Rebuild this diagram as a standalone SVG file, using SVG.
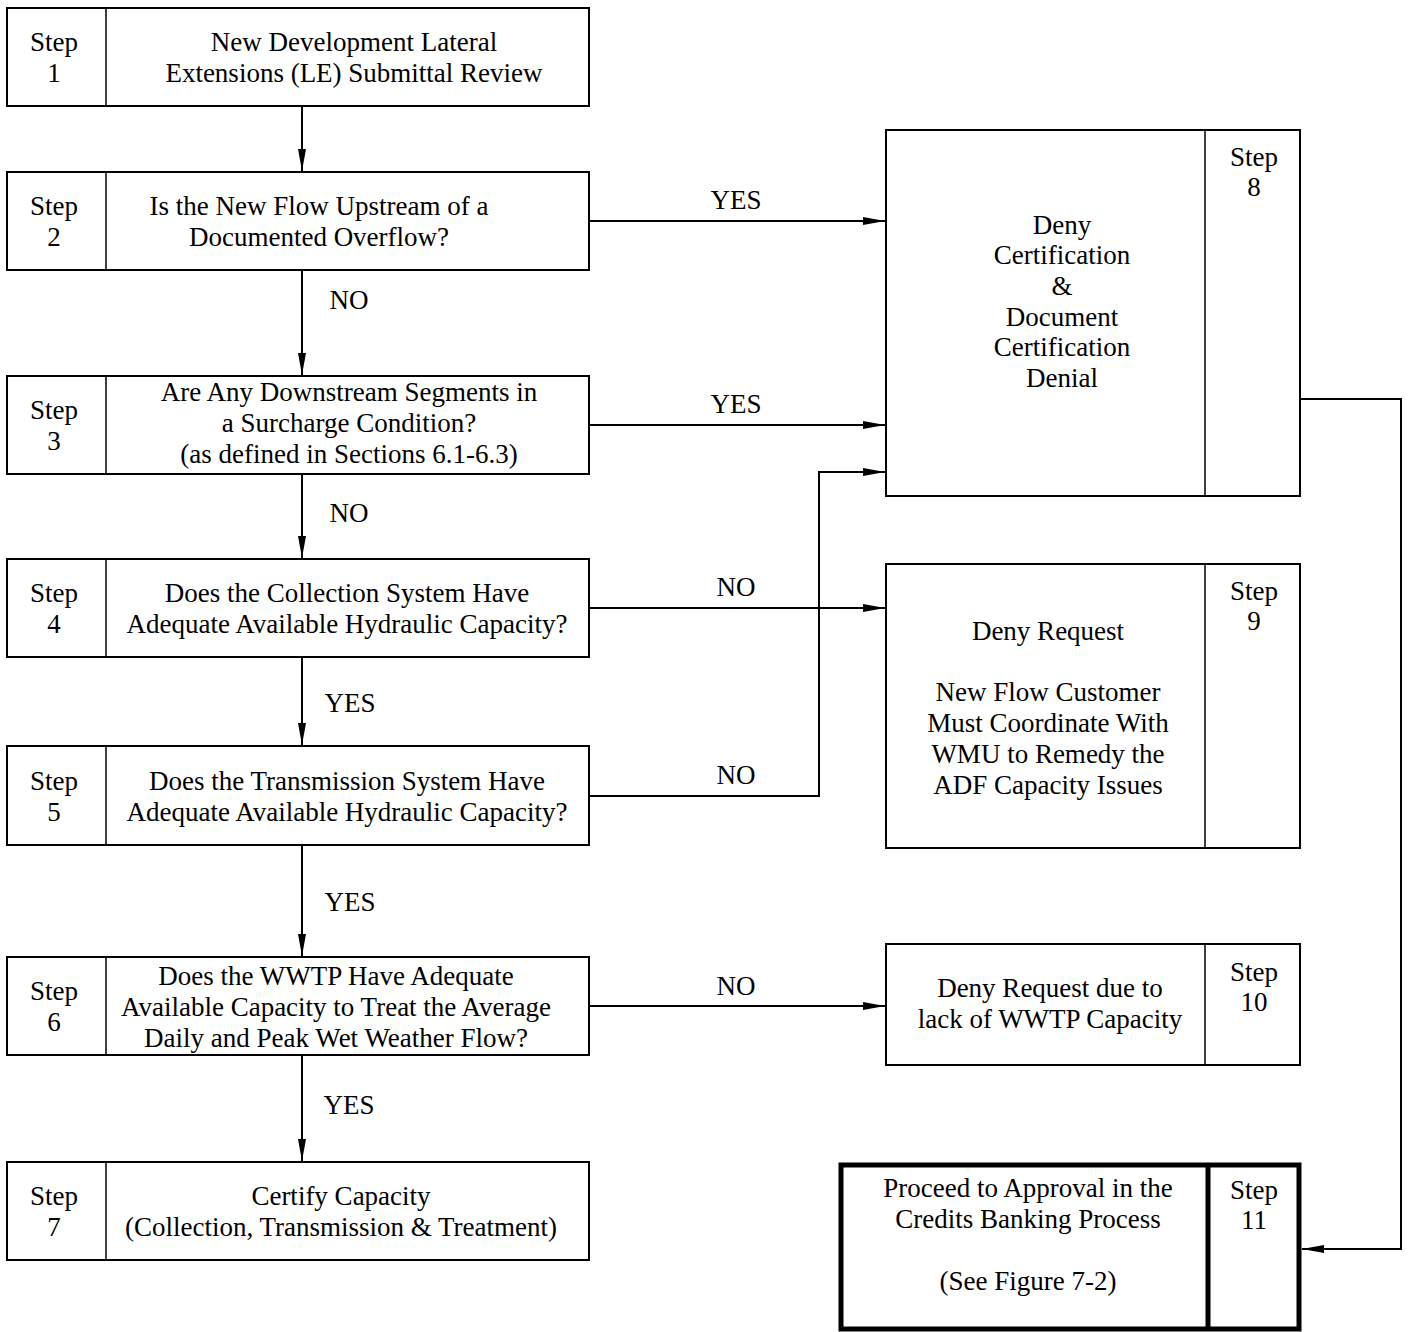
<svg xmlns="http://www.w3.org/2000/svg" width="1409" height="1332" viewBox="0 0 1409 1332">
<defs>
<style>
rect.b{fill:#fff;stroke:#000;stroke-width:2}
line.d,path.d{stroke:#000;stroke-width:1.5;fill:none}
text{font-family:"Liberation Serif","Times New Roman",serif;font-size:27px;fill:#000;text-anchor:middle}
.c path,.c line{stroke:#000;stroke-width:2;fill:none}
.thick{fill:#fff;stroke:#000;stroke-width:5}
</style>
<marker id="ah" viewBox="0 0 22 8" refX="22" refY="4" markerWidth="22" markerHeight="8" markerUnits="userSpaceOnUse" orient="auto">
<path d="M0,0 L22,4 L0,8 Z" fill="#000"/>
</marker>
</defs>
<rect width="1409" height="1332" fill="#fff"/>

<g id="connectors" class="c">
<line x1="302" y1="106" x2="302" y2="171" marker-end="url(#ah)"/>
<line x1="302" y1="270" x2="302" y2="375" marker-end="url(#ah)"/>
<line x1="302" y1="474" x2="302" y2="558" marker-end="url(#ah)"/>
<line x1="302" y1="657" x2="302" y2="745" marker-end="url(#ah)"/>
<line x1="302" y1="845" x2="302" y2="956" marker-end="url(#ah)"/>
<line x1="302" y1="1055" x2="302" y2="1161" marker-end="url(#ah)"/>
<line x1="589" y1="221" x2="885" y2="221" marker-end="url(#ah)"/>
<line x1="589" y1="425" x2="885" y2="425" marker-end="url(#ah)"/>
<line x1="589" y1="608" x2="885" y2="608" marker-end="url(#ah)"/>
<path d="M589,796 H819 V472 H885" marker-end="url(#ah)"/>
<line x1="589" y1="1006" x2="885" y2="1006" marker-end="url(#ah)"/>
<path d="M1300,399 H1401 V1249 H1302" marker-end="url(#ah)"/>
<text x="349" y="309">NO</text>
<text x="349" y="522">NO</text>
<text x="350" y="712">YES</text>
<text x="350" y="911">YES</text>
<text x="349" y="1114">YES</text>
<text x="736" y="209">YES</text>
<text x="736" y="413">YES</text>
<text x="736" y="596">NO</text>
<text x="736" y="784">NO</text>
<text x="736" y="995">NO</text>
</g>

<g id="step1">
<rect class="b" x="7" y="8" width="582" height="98"/>
<line class="d" x1="106" y1="8" x2="106" y2="106"/>
<text x="54" y="51">Step</text><text x="54" y="82">1</text>
<text x="354" y="51">New Development Lateral</text>
<text x="354" y="82">Extensions (LE) Submittal Review</text>
</g>

<g id="step2">
<rect class="b" x="7" y="172" width="582" height="98"/>
<line class="d" x1="106" y1="172" x2="106" y2="270"/>
<text x="54" y="215">Step</text><text x="54" y="246">2</text>
<text x="319" y="215">Is the New Flow Upstream of a</text>
<text x="319" y="246">Documented Overflow?</text>
</g>

<g id="step3">
<rect class="b" x="7" y="376" width="582" height="98"/>
<line class="d" x1="106" y1="376" x2="106" y2="474"/>
<text x="54" y="419">Step</text><text x="54" y="450">3</text>
<text x="349" y="401">Are Any Downstream Segments in</text>
<text x="349" y="432">a Surcharge Condition?</text>
<text x="349" y="463">(as defined in Sections 6.1-6.3)</text>
</g>

<g id="step4">
<rect class="b" x="7" y="559" width="582" height="98"/>
<line class="d" x1="106" y1="559" x2="106" y2="657"/>
<text x="54" y="602">Step</text><text x="54" y="633">4</text>
<text x="347" y="602">Does the Collection System Have</text>
<text x="347" y="633">Adequate Available Hydraulic Capacity?</text>
</g>

<g id="step5">
<rect class="b" x="7" y="746" width="582" height="99"/>
<line class="d" x1="106" y1="746" x2="106" y2="845"/>
<text x="54" y="790">Step</text><text x="54" y="821">5</text>
<text x="347" y="790">Does the Transmission System Have</text>
<text x="347" y="821">Adequate Available Hydraulic Capacity?</text>
</g>

<g id="step6">
<rect class="b" x="7" y="957" width="582" height="98"/>
<line class="d" x1="106" y1="957" x2="106" y2="1055"/>
<text x="54" y="1000">Step</text><text x="54" y="1031">6</text>
<text x="336" y="985">Does the WWTP Have Adequate</text>
<text x="336" y="1016">Available Capacity to Treat the Average</text>
<text x="336" y="1047">Daily and Peak Wet Weather Flow?</text>
</g>

<g id="step7">
<rect class="b" x="7" y="1162" width="582" height="98"/>
<line class="d" x1="106" y1="1162" x2="106" y2="1260"/>
<text x="54" y="1205">Step</text><text x="54" y="1236">7</text>
<text x="341" y="1205">Certify Capacity</text>
<text x="341" y="1236">(Collection, Transmission &amp; Treatment)</text>
</g>

<g id="step8">
<rect class="b" x="886" y="130" width="414" height="366"/>
<line class="d" x1="1205" y1="130" x2="1205" y2="496"/>
<text x="1254" y="166">Step</text><text x="1254" y="196">8</text>
<text x="1062" y="234">Deny</text>
<text x="1062" y="264">Certification</text>
<text x="1062" y="295">&amp;</text>
<text x="1062" y="326">Document</text>
<text x="1062" y="356">Certification</text>
<text x="1062" y="387">Denial</text>
</g>

<g id="step9">
<rect class="b" x="886" y="564" width="414" height="284"/>
<line class="d" x1="1205" y1="564" x2="1205" y2="848"/>
<text x="1254" y="600">Step</text><text x="1254" y="630">9</text>
<text x="1048" y="640">Deny Request</text>
<text x="1048" y="701">New Flow Customer</text>
<text x="1048" y="732">Must Coordinate With</text>
<text x="1048" y="763">WMU to Remedy the</text>
<text x="1048" y="794">ADF Capacity Issues</text>
</g>

<g id="step10">
<rect class="b" x="886" y="944" width="414" height="121"/>
<line class="d" x1="1205" y1="944" x2="1205" y2="1065"/>
<text x="1254" y="981">Step</text><text x="1254" y="1011">10</text>
<text x="1050" y="997">Deny Request due to</text>
<text x="1050" y="1028">lack of WWTP Capacity</text>
</g>

<g id="step11">
<rect class="thick" x="841" y="1165" width="458" height="164"/>
<line x1="1208" y1="1165" x2="1208" y2="1329" stroke="#000" stroke-width="5"/>
<text x="1028" y="1197">Proceed to Approval in the</text>
<text x="1028" y="1228">Credits Banking Process</text>
<text x="1028" y="1290">(See Figure 7-2)</text>
<text x="1254" y="1199">Step</text><text x="1254" y="1229">11</text>
</g>
</svg>
